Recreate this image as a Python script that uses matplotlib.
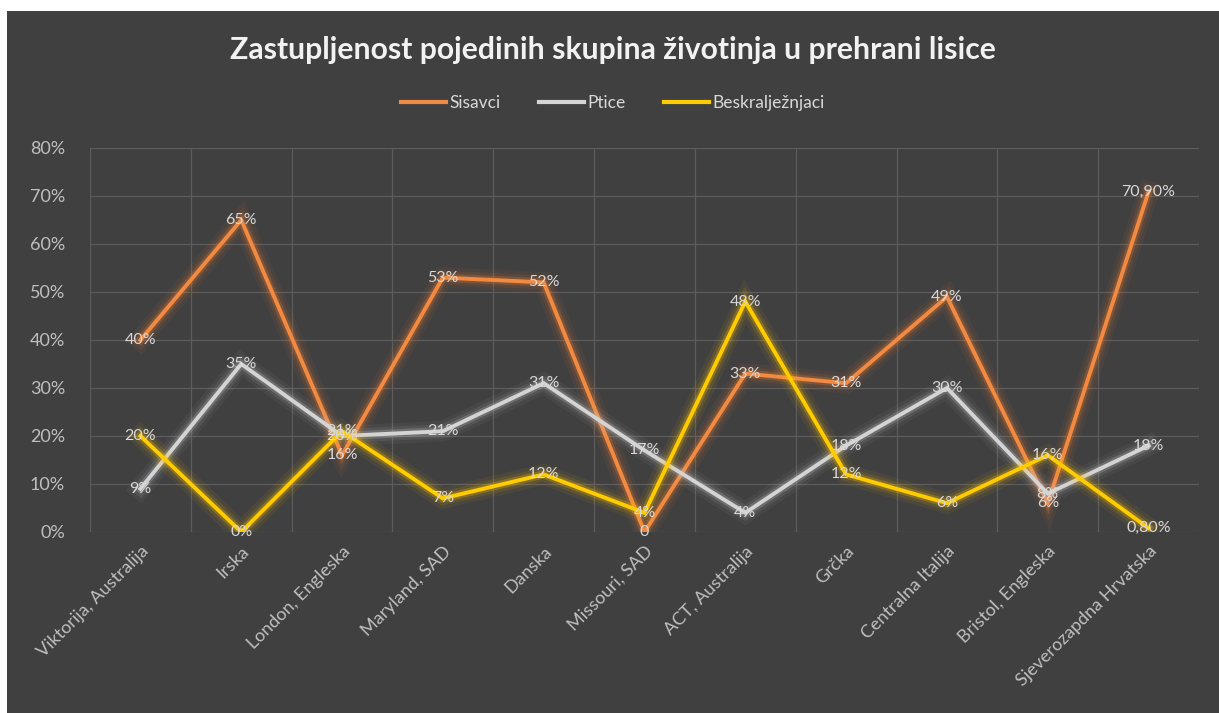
import numpy as np
import matplotlib
matplotlib.use('Agg')
import matplotlib.pyplot as plt
import matplotlib.patheffects as pe
from matplotlib.patches import Rectangle
from matplotlib.lines import Line2D

plt.rcParams['font.family'] = ['Lato', 'DejaVu Sans']

categories = ['Viktorija, Australija', 'Irska', 'London, Engleska', 'Maryland, SAD',
              'Danska', 'Missouri, SAD', 'ACT, Australija', 'Grčka',
              'Centralna Italija', 'Bristol, Engleska', 'Sjeverozapdna Hrvatska']

sisavci = [40, 65, 16, 53, 52, 0, 33, 31, 49, 6, 70.9]
ptice = [9, 35, 20, 21, 31, 17, 4, 18, 30, 8, 18]
beskraljeznjaci = [20, 0, 21, 7, 12, 4, 48, 12, 6, 16, 0.8]

sisavci_labels = ['40%', '65%', '16%', '53%', '52%', '0', '33%', '31%', '49%', '6%', '70,90%']
ptice_labels = ['9%', '35%', '20%', '21%', '31%', '17%', '4%', '18%', '30%', '8%', '18%']
besk_labels = ['20%', '0%', '21%', '7%', '12%', '4%', '48%', '12%', '6%', '16%', '0,80%']

series = [
    ('Sisavci', sisavci, sisavci_labels, '#f28a42', '#ed7d31'),
    ('Ptice', ptice, ptice_labels, '#d4d4d4', '#bfbfbf'),
    ('Beskralježnjaci', beskraljeznjaci, besk_labels, '#ffcc00', '#ffc000'),
]

bg = '#404040'
fig = plt.figure(figsize=(12.19, 7.13), dpi=100, facecolor='white')
fig.patches.append(Rectangle((7 / 1219, 0), 1, 1 - 11 / 713, transform=fig.transFigure,
                             facecolor=bg, edgecolor='none', zorder=-5))

ax = fig.add_axes([90 / 1219, 1 - 532 / 713, 1109 / 1219, 384 / 713])
ax.set_facecolor(bg)
ax.patch.set_alpha(0)

x = np.arange(len(categories))
for name, vals, labs, col, glow in series:
    effects = [pe.Stroke(linewidth=15, foreground=glow, alpha=0.06),
               pe.Stroke(linewidth=10, foreground=glow, alpha=0.10),
               pe.Stroke(linewidth=6, foreground=glow, alpha=0.25),
               pe.Normal()]
    ax.plot(x, vals, color=col, lw=2.8, path_effects=effects, zorder=3,
            solid_joinstyle='miter')
    for xi, v, t in zip(x, vals, labs):
        ax.text(xi, v, t, ha='center', va='center', fontsize=11.5,
                color='#d9d9d9', zorder=5)

ax.set_xlim(-0.5, len(categories) - 0.5)
ax.set_ylim(0, 80)
ax.set_yticks(np.arange(0, 81, 10))
ax.set_yticklabels([f'{v}%' for v in range(0, 81, 10)])
ax.set_xticks(x)
ax.set_xticklabels(categories, rotation=45, ha='right', rotation_mode='anchor')
ax.grid(False)
for yv in range(0, 81, 10):
    ax.axhline(yv, color='#5c5c5c', lw=0.9, zorder=1)
for xv in np.arange(-0.5, len(categories)):
    ax.axvline(xv, color='#5c5c5c', lw=0.9, zorder=1)
for s in ax.spines.values():
    s.set_visible(False)
ax.tick_params(axis='both', which='both', length=0, colors='#bfbfbf', labelsize=13)
ax.tick_params(axis='y', pad=18)
ax.tick_params(axis='x', pad=8)

fig.text(0.503, 1 - 50 / 713, 'Zastupljenost pojedinih skupina životinja u prehrani lisice',
         ha='center', va='center', fontsize=21.7, fontweight='bold', color='#f2f2f2')

handles = [Line2D([0], [0], color=c, lw=3) for _, _, _, c, _ in series]
leg = fig.legend(handles, [s[0] for s in series], loc='center', ncol=3,
                 bbox_to_anchor=(0.503, 1 - 103 / 713), frameon=False, fontsize=12.5,
                 handlelength=2.6, handletextpad=0.2, columnspacing=2.2)
for t in leg.get_texts():
    t.set_color('#d9d9d9')

fig.savefig('out.png', dpi=100, facecolor=fig.get_facecolor())
